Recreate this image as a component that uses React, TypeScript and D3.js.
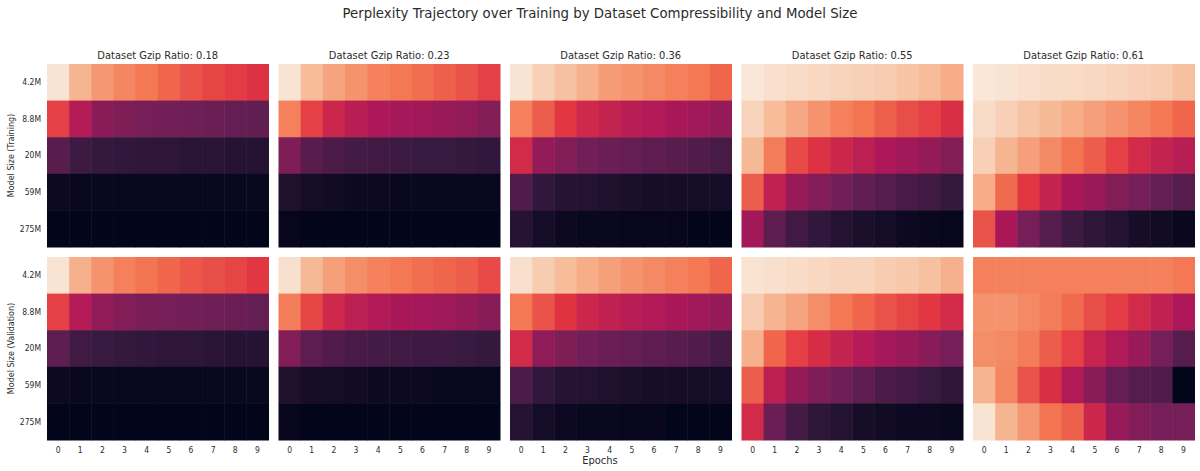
import React from "react";
import * as d3 from "d3";

const ratios = ["0.18", "0.23", "0.36", "0.55", "0.61"];
const modelSizes = ["4.2M", "8.8M", "20M", "59M", "275M"];
const epochs = [0, 1, 2, 3, 4, 5, 6, 7, 8, 9];
const splits = ["Training", "Validation"];

// normalized perplexity (colormap position 0..1), [model][epoch]
const train018 = [
  [0.98, 0.86, 0.79, 0.75, 0.72, 0.68, 0.64, 0.61, 0.59, 0.56],
  [0.6, 0.45, 0.35, 0.32, 0.3, 0.29, 0.28, 0.27, 0.26, 0.25],
  [0.23, 0.16, 0.14, 0.13, 0.12, 0.12, 0.11, 0.11, 0.1, 0.09],
  [0.03, 0.02, 0.02, 0.02, 0.02, 0.02, 0.02, 0.02, 0.02, 0.02],
  [0.0, 0.0, 0.0, 0.0, 0.0, 0.0, 0.0, 0.0, 0.0, 0.0],
];
const train023 = [
  [0.98, 0.88, 0.82, 0.78, 0.74, 0.72, 0.7, 0.67, 0.64, 0.6],
  [0.74, 0.6, 0.51, 0.46, 0.43, 0.41, 0.4, 0.38, 0.36, 0.33],
  [0.32, 0.23, 0.2, 0.18, 0.17, 0.16, 0.15, 0.15, 0.14, 0.13],
  [0.08, 0.05, 0.04, 0.03, 0.03, 0.02, 0.02, 0.02, 0.02, 0.02],
  [0.01, 0.0, 0.0, 0.0, 0.0, 0.0, 0.0, 0.0, 0.0, 0.0],
];
const train036 = [
  [0.98, 0.93, 0.89, 0.85, 0.8, 0.78, 0.76, 0.74, 0.72, 0.68],
  [0.74, 0.66, 0.58, 0.52, 0.49, 0.46, 0.44, 0.42, 0.4, 0.37],
  [0.53, 0.37, 0.33, 0.29, 0.27, 0.26, 0.24, 0.23, 0.21, 0.19],
  [0.21, 0.13, 0.1, 0.09, 0.08, 0.07, 0.06, 0.06, 0.05, 0.05],
  [0.1, 0.05, 0.03, 0.02, 0.02, 0.01, 0.01, 0.01, 0.0, 0.0],
];
const train055 = [
  [0.99, 0.97, 0.96, 0.95, 0.94, 0.93, 0.92, 0.9, 0.88, 0.84],
  [0.94, 0.88, 0.83, 0.78, 0.74, 0.71, 0.67, 0.63, 0.6, 0.55],
  [0.87, 0.73, 0.62, 0.56, 0.51, 0.47, 0.43, 0.4, 0.37, 0.33],
  [0.66, 0.48, 0.38, 0.33, 0.29, 0.25, 0.22, 0.19, 0.17, 0.14],
  [0.4, 0.24, 0.17, 0.13, 0.09, 0.07, 0.05, 0.03, 0.02, 0.01],
];
const train061 = [
  [0.99, 0.98, 0.97, 0.96, 0.955, 0.95, 0.94, 0.93, 0.92, 0.89],
  [0.96, 0.93, 0.9, 0.87, 0.84, 0.81, 0.78, 0.75, 0.72, 0.68],
  [0.93, 0.86, 0.81, 0.76, 0.71, 0.66, 0.6, 0.53, 0.49, 0.46],
  [0.84, 0.69, 0.58, 0.49, 0.42, 0.38, 0.33, 0.3, 0.26, 0.22],
  [0.64, 0.42, 0.3, 0.22, 0.16, 0.12, 0.09, 0.06, 0.04, 0.02],
];
const val018 = [
  [0.98, 0.85, 0.78, 0.74, 0.71, 0.68, 0.65, 0.63, 0.61, 0.58],
  [0.6, 0.45, 0.36, 0.33, 0.31, 0.3, 0.29, 0.28, 0.27, 0.26],
  [0.24, 0.17, 0.15, 0.14, 0.13, 0.12, 0.12, 0.11, 0.1, 0.1],
  [0.03, 0.02, 0.02, 0.02, 0.02, 0.02, 0.02, 0.02, 0.02, 0.02],
  [0.0, 0.0, 0.0, 0.0, 0.0, 0.0, 0.0, 0.0, 0.0, 0.0],
];
const val023 = [
  [0.97, 0.87, 0.81, 0.77, 0.74, 0.72, 0.7, 0.68, 0.66, 0.62],
  [0.73, 0.61, 0.52, 0.47, 0.44, 0.42, 0.41, 0.39, 0.37, 0.34],
  [0.33, 0.24, 0.21, 0.19, 0.18, 0.17, 0.16, 0.16, 0.15, 0.14],
  [0.08, 0.06, 0.05, 0.04, 0.03, 0.03, 0.03, 0.02, 0.02, 0.02],
  [0.01, 0.0, 0.0, 0.0, 0.0, 0.0, 0.0, 0.0, 0.0, 0.0],
];
const val036 = [
  [0.97, 0.92, 0.88, 0.84, 0.81, 0.78, 0.76, 0.74, 0.72, 0.68],
  [0.72, 0.64, 0.57, 0.51, 0.48, 0.46, 0.44, 0.42, 0.4, 0.37],
  [0.53, 0.36, 0.32, 0.29, 0.27, 0.26, 0.24, 0.23, 0.21, 0.18],
  [0.2, 0.13, 0.1, 0.09, 0.08, 0.07, 0.06, 0.06, 0.05, 0.05],
  [0.1, 0.05, 0.03, 0.02, 0.02, 0.01, 0.01, 0.0, 0.0, 0.0],
];
const val055 = [
  [0.98, 0.97, 0.96, 0.95, 0.94, 0.94, 0.92, 0.91, 0.89, 0.85],
  [0.92, 0.86, 0.82, 0.77, 0.72, 0.68, 0.64, 0.61, 0.58, 0.53],
  [0.85, 0.68, 0.6, 0.54, 0.49, 0.45, 0.41, 0.38, 0.34, 0.3],
  [0.66, 0.47, 0.37, 0.32, 0.28, 0.24, 0.2, 0.18, 0.15, 0.12],
  [0.53, 0.27, 0.18, 0.12, 0.09, 0.06, 0.04, 0.03, 0.03, 0.02],
];
const val061 = [
  [0.74, 0.74, 0.74, 0.74, 0.74, 0.74, 0.74, 0.74, 0.74, 0.72],
  [0.78, 0.78, 0.76, 0.73, 0.69, 0.63, 0.59, 0.53, 0.48, 0.43],
  [0.77, 0.76, 0.73, 0.66, 0.6, 0.5, 0.44, 0.38, 0.3, 0.22],
  [0.86, 0.75, 0.64, 0.55, 0.44, 0.35, 0.26, 0.22, 0.21, 0.0],
  [0.98, 0.86, 0.79, 0.71, 0.67, 0.51, 0.38, 0.33, 0.3, 0.3],
];

const trainGrids = [train018, train023, train036, train055, train061];
const valGrids = [val018, val023, val036, val055, val061];

// seaborn "rocket" colormap anchors
const rocketStops = [0, 1 / 7, 2 / 7, 3 / 7, 4 / 7, 5 / 7, 6 / 7, 1];
const rocketColors = ["#03051a", "#35193e", "#701f57", "#ad1759", "#e13342", "#f37651", "#f6b48f", "#faebdd"];

const SX = 0.9;

function SText(props: {
  x: number;
  y: number;
  size: number;
  anchor?: string;
  sx?: number;
  dy?: string;
  children: React.ReactNode;
}) {
  const { x, y, size, anchor = "middle", sx = SX, dy, children } = props;
  return (
    <g transform={`translate(${x},${y}) scale(${sx},1)`}>
      <text x={0} y={0} dy={dy} textAnchor={anchor} fontSize={size} fill="#2b2b2b">
        {children}
      </text>
    </g>
  );
}

export default function App() {
  const W = 1200;
  const H = 471;
  const left = 47;
  const panelW = 221.5;
  const colStep = 231.5;
  const rowTops = [64, 257];
  const panelH = 183;

  const color = d3
    .scaleLinear<string>()
    .domain(rocketStops)
    .range(rocketColors)
    .interpolate(d3.interpolateRgb)
    .clamp(true);

  const x = d3.scaleBand<number>().domain(epochs).range([0, panelW]).padding(0);
  const y = d3.scaleBand<string>().domain(modelSizes).range([0, panelH]).padding(0);

  const font = "DejaVu Sans, sans-serif";

  return (
    <svg width={W} height={H} style={{ position: "absolute", left: 0, top: 0 }} fontFamily={font}>
      <rect width={W} height={H} fill="#ffffff" />
      <SText x={600} y={18} size={14.8}>
        Perplexity Trajectory over Training by Dataset Compressibility and Model Size
      </SText>
      {splits.map((split, si) => {
        const grids = si === 0 ? trainGrids : valGrids;
        const top = rowTops[si];
        return (
          <g key={split}>
            <g transform={`translate(14,${top + panelH / 2}) rotate(-90)`}>
              <text x={0} y={0} textAnchor="middle" fontSize={8} fill="#2b2b2b">
                {`Model Size (${split})`}
              </text>
            </g>
            {modelSizes.map((m) => (
              <SText
                key={m}
                x={left - 6}
                y={top + (y(m) as number) + y.bandwidth() / 2}
                dy="0.35em"
                anchor="end"
                size={8.5}
              >
                {m}
              </SText>
            ))}
            {ratios.map((r, ci) => {
              const x0 = left + ci * colStep;
              const grid = grids[ci];
              return (
                <g key={r} transform={`translate(${x0},${top})`}>
                  {si === 0 && (
                    <SText x={panelW / 2} y={-5.5} size={11}>
                      {`Dataset Gzip Ratio: ${r}`}
                    </SText>
                  )}
                  {modelSizes.map((m, mi) =>
                    epochs.map((e) => (
                      <rect
                        key={`${m}-${e}`}
                        x={x(e) as number}
                        y={y(m) as number}
                        width={x.bandwidth() + 0.5}
                        height={y.bandwidth() + 0.5}
                        fill={color(grid[mi][e])}
                      />
                    ))
                  )}
                  {si === 1 &&
                    epochs.map((e) => (
                      <SText
                        key={e}
                        x={(x(e) as number) + x.bandwidth() / 2}
                        y={panelH + 12.5}
                        size={8.5}
                      >
                        {e}
                      </SText>
                    ))}
                </g>
              );
            })}
          </g>
        );
      })}
      <SText x={600} y={464} size={11}>
        Epochs
      </SText>
    </svg>
  );
}
